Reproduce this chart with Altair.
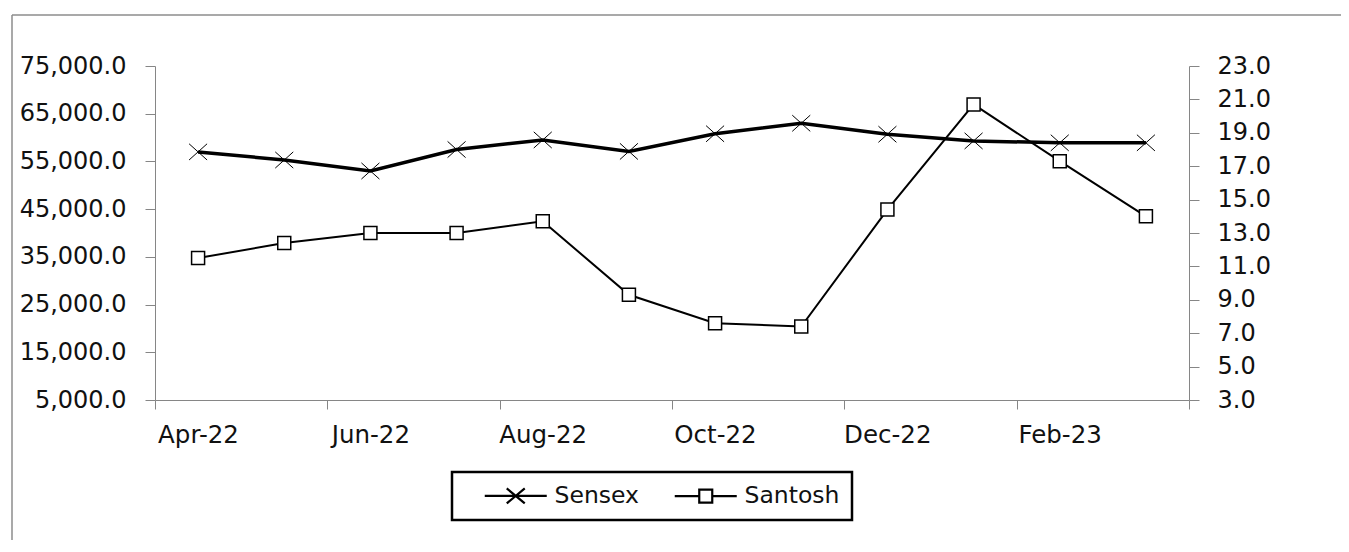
import json
import altair as alt
import pandas as pd

months = ["Apr-22", "May-22", "Jun-22", "Jul-22", "Aug-22", "Sep-22",
          "Oct-22", "Nov-22", "Dec-22", "Jan-23", "Feb-23", "Mar-23"]
sensex = [57000, 55300, 53000, 57500, 59500, 57100,
          60800, 63000, 60700, 59300, 58900, 58900]
santosh = [11.5, 12.4, 13.0, 13.0, 13.7, 9.3, 7.6, 7.4, 14.4, 20.7, 17.3, 14.0]

left_ticks = [5000, 15000, 25000, 35000, 45000, 55000, 65000, 75000]
right_ticks = [3.0, 5.0, 7.0, 9.0, 11.0, 13.0, 15.0, 17.0, 19.0, 21.0, 23.0]
x_labels = months[::2]

df = pd.DataFrame({"idx": list(range(len(months))), "month": months,
                   "Sensex": sensex, "Santosh": santosh})

FONT = "DejaVu Sans"
GRAY = "#868686"
TXT = "#111111"
n = len(months)
x_tick_vals = [i - 0.5 for i in range(0, n + 1, 2)]
label_expr = ("datum.value < %s ? %s[round((datum.value + 0.5) / 2)] : ''"
              % (n - 1, json.dumps(x_labels)))

x_enc = alt.X("idx:Q",
              scale=alt.Scale(domain=[-0.5, n - 0.5], nice=False, zero=False),
              axis=alt.Axis(values=x_tick_vals, labelExpr=label_expr, title=None,
                            grid=False, tickSize=9, labelPadding=14,
                            labelOffset=43, labelFlush=False, labelOverlap=False,
                            labelFont=FONT, labelFontSize=24.5, labelColor=TXT,
                            domainColor=GRAY, tickColor=GRAY))

left_y = alt.Y("Sensex:Q",
               scale=alt.Scale(domain=[5000, 75000], nice=False, zero=False),
               axis=alt.Axis(values=left_ticks, format=",.1f", title=None, grid=False,
                             tickSize=10, labelPadding=19, labelFont=FONT,
                             labelFontSize=24, labelColor=TXT,
                             domainColor=GRAY, tickColor=GRAY))
right_y = alt.Y("Santosh:Q",
                scale=alt.Scale(domain=[3, 23], nice=False, zero=False),
                axis=alt.Axis(orient="right", values=right_ticks, format=".1f",
                              title=None, grid=False, tickSize=10, labelPadding=18,
                              labelFont=FONT, labelFontSize=24, labelColor=TXT,
                              domainColor=GRAY, tickColor=GRAY))

X_PATH = "M-1,-0.9L1,0.9M-1,0.9L1,-0.9"
LEG_SENSEX = "M0.9,0H7.1M3.1,-0.75L4.9,0.75M3.1,0.75L4.9,-0.75"
LEG_SANTOSH = "M0.9,0H3.35M4.65,0H7.1M3.35,-0.65H4.65V0.65H3.35Z"

base = alt.Chart(df)

sensex_line = base.mark_line(color="black", strokeWidth=3.5).encode(x=x_enc, y=left_y)
sensex_pts = base.mark_point(shape=X_PATH, size=324, filled=False, color="black",
                             strokeWidth=1, opacity=1).encode(x=x_enc, y=left_y)
legend_layer = base.transform_fold(["Sensex", "Santosh"], as_=["series", "val"]).mark_point(
    opacity=0, filled=False, color="black").encode(
    x=x_enc, y=left_y,
    shape=alt.Shape("series:N", title=None,
                    scale=alt.Scale(domain=["Sensex", "Santosh"],
                                    range=[LEG_SENSEX, LEG_SANTOSH]),
                    legend=alt.Legend(orient="none", legendX=297, legendY=406,
                                      direction="horizontal", padding=12,
                                      strokeColor="black",
                                      symbolSize=400, symbolStrokeColor="black",
                                      symbolStrokeWidth=2.2, symbolOpacity=1,
                                      labelOffset=67, columnPadding=15,
                                      labelFont=FONT, labelFontSize=23.5,
                                      labelColor=TXT)))

border = alt.Chart(pd.DataFrame({"k": [0]}))
border_left = border.mark_rule(color="#8c8c8c", strokeWidth=1.5).encode(
    x=alt.value(-143), y=alt.value(-51), y2=alt.value(700))
border_top = border.mark_rule(color="#8c8c8c", strokeWidth=1.5).encode(
    x=alt.value(-143), x2=alt.value(1400), y=alt.value(-51))

santosh_line = base.mark_line(color="black", strokeWidth=2).encode(x=x_enc, y=right_y)
santosh_pts = base.mark_point(shape="square", size=169, filled=True, fill="white",
                              stroke="black", strokeWidth=1.5, opacity=1).encode(
    x=x_enc, y=right_y)

left_layer = alt.layer(border_left, border_top, sensex_line, sensex_pts, legend_layer)
right_layer = alt.layer(santosh_line, santosh_pts)

chart = alt.layer(left_layer, right_layer).resolve_scale(y="independent").properties(
    width=1034, height=334,
    autosize=alt.AutoSizeParams(type="none"),
    padding={"left": 147, "top": 58, "right": 152, "bottom": 140},
    background="white",
).configure_view(stroke=None).configure_legend(strokeWidth=2.5)

chart.save("out.html", embed_options={"renderer": "svg", "actions": False})
